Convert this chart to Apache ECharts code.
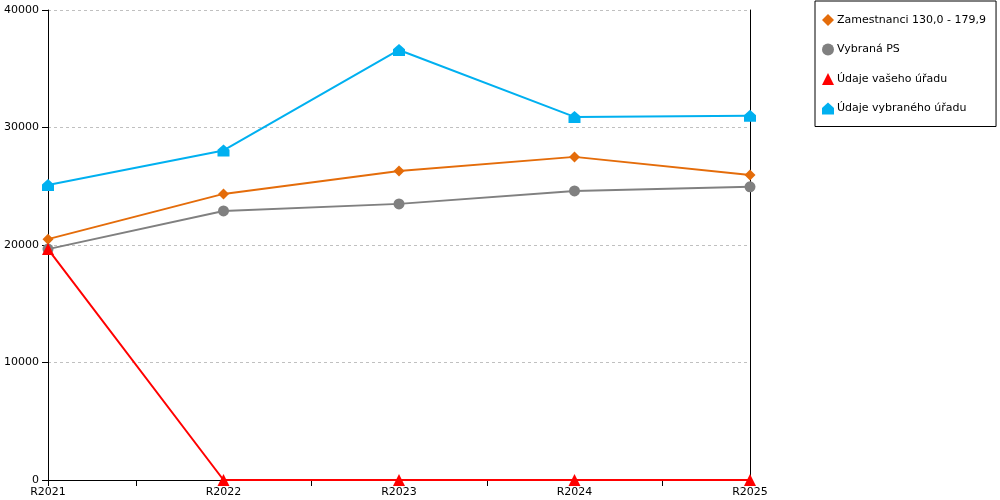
<!DOCTYPE html>
<html><head><meta charset="utf-8">
<script src="https://cdn.jsdelivr.net/npm/echarts@6/dist/echarts.min.js"></script>
<style>html,body{margin:0;padding:0;background:#fff}#c{width:1000px;height:500px}</style>
</head><body><div id="c"></div>
<script>
var categories = ['R2021', 'R2022', 'R2023', 'R2024', 'R2025'];
var halfTicks = ['a','b','c','d','e','f','g','h','i'];
var yTicks = [0, 10000, 20000, 30000, 40000];
var zamestnanci = [20500, 24350, 26300, 27500, 25950];
var vybranaPS = [19650, 22900, 23500, 24600, 24950];
var vasUrad = [19650, 0, 0, 0, 0];
var vybranyUrad = [25100, 28050, 36600, 30900, 31000];

var FONT = 'DejaVu Sans';
var house = 'path://M5,0 L10,4.5 L10,10 L0,10 L0,4.5 Z';
var chart = echarts.init(document.getElementById('c'), null, {renderer: 'canvas'});
function s(name, data, color, symbol, size, z) {
  return {name: name, type: 'line', data: data, symbol: symbol, symbolSize: size,
    showSymbol: true, lineStyle: {color: color, width: 2}, itemStyle: {color: color},
    z: z, animation: false, xAxisIndex: 0, yAxisIndex: 0};
}
chart.setOption({
  animation: false,
  textStyle: {fontFamily: FONT},
  grid: {left: 48, right: 250, top: 10, bottom: 20, containLabel: false, outerBoundsMode: 'none'},
  legend: {
    orient: 'vertical', left: 815, top: 1,
    padding: [13, 10, 12, 7], itemGap: 17.5, itemWidth: 12, itemHeight: 12,
    borderColor: '#000', borderWidth: 1,
    textStyle: {fontFamily: FONT, fontSize: 11, color: '#000', padding: [0, 0, 0, -2]},
    data: [
      {name: 'Zamestnanci 130,0 - 179,9', icon: 'diamond'},
      {name: 'Vybraná PS', icon: 'circle'},
      {name: 'Údaje vašeho úřadu', icon: 'triangle'},
      {name: 'Údaje vybraného úřadu', icon: house}
    ]
  },
  xAxis: [{
    type: 'category', data: categories, boundaryGap: false,
    axisLine: {lineStyle: {color: '#000', width: 1}},
    axisTick: {show: true, length: 6, lineStyle: {color: '#000'}},
    axisLabel: {color: '#000', fontSize: 11, fontFamily: FONT, margin: 7, interval: 0},
    splitLine: {show: false}
  }, {
    type: 'category', data: halfTicks, boundaryGap: false, position: 'bottom',
    axisLine: {show: false},
    axisTick: {show: true, length: 6, interval: 0, lineStyle: {color: '#000'}},
    axisLabel: {show: false}, splitLine: {show: false}
  }],
  yAxis: [{
    type: 'value', min: yTicks[0], max: yTicks[yTicks.length - 1], interval: 10000,
    axisLine: {show: true, lineStyle: {color: '#000'}},
    axisTick: {show: true, length: 6, lineStyle: {color: '#000'}},
    axisLabel: {color: '#000', fontSize: 11, fontFamily: FONT, margin: 9,
      formatter: function (v) { return String(v); }},
    splitLine: {show: true, lineStyle: {color: '#c0c0c0', type: [3, 3], width: 1}}
  }, {
    type: 'value', min: yTicks[0], max: yTicks[yTicks.length - 1], interval: 10000, position: 'right',
    axisLine: {show: true, lineStyle: {color: '#000'}},
    axisTick: {show: false}, axisLabel: {show: false}, splitLine: {show: false}
  }],
  series: [
    s('Zamestnanci 130,0 - 179,9', zamestnanci, '#e46c0a', 'diamond', 11, 3),
    s('Vybraná PS', vybranaPS, '#808080', 'circle', 11, 2),
    s('Údaje vašeho úřadu', vasUrad, '#ff0000', 'triangle', 12, 4),
    s('Údaje vybraného úřadu', vybranyUrad, '#00b0f0', house, 12, 5)
  ]
});
</script></body></html>
